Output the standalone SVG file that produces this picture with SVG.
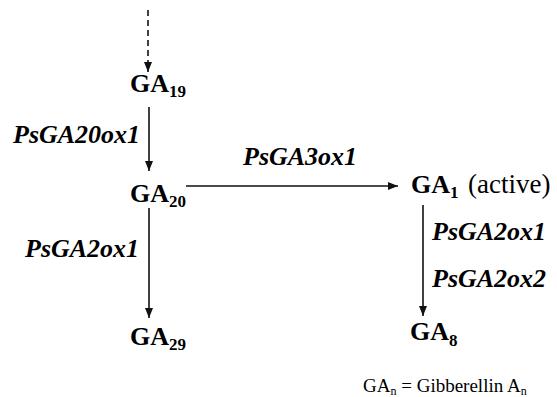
<svg xmlns="http://www.w3.org/2000/svg" width="557" height="397" viewBox="0 0 557 397">
<style>
.ln{stroke:#111;stroke-width:1.6;fill:none}
</style>
<defs>
<marker id="ah" viewBox="0 0 10 10" refX="10" refY="5" markerWidth="10" markerHeight="10" markerUnits="userSpaceOnUse" orient="auto">
<path d="M0,1 L10,5 L0,9 Z" fill="#111"/>
</marker>
</defs>
<rect width="557" height="397" fill="#fff"/>
<g id="connectors">
<line class="ln" x1="148" y1="10" x2="148" y2="72" stroke-dasharray="6,4" marker-end="url(#ah)"/>
<line class="ln" x1="149" y1="107" x2="149" y2="171" marker-end="url(#ah)"/>
<line class="ln" x1="149" y1="208" x2="149" y2="318" marker-end="url(#ah)"/>
<line class="ln" x1="186" y1="186" x2="398" y2="186" marker-end="url(#ah)"/>
<line class="ln" x1="423" y1="205" x2="423" y2="316" marker-end="url(#ah)"/>
</g>
<g id="label-PsGA20ox1"><text x="13" y="143" font-family="Liberation Serif" font-weight="bold" font-style="italic" font-size="26">PsGA20ox1</text></g>
<g id="label-PsGA3ox1"><text x="243" y="165" font-family="Liberation Serif" font-weight="bold" font-style="italic" font-size="26">PsGA3ox1</text></g>
<g id="label-PsGA2ox1-left"><text x="25" y="257" font-family="Liberation Serif" font-weight="bold" font-style="italic" font-size="26">PsGA2ox1</text></g>
<g id="label-PsGA2ox1-right"><text x="432" y="240" font-family="Liberation Serif" font-weight="bold" font-style="italic" font-size="26">PsGA2ox1</text></g>
<g id="label-PsGA2ox2"><text x="432" y="287" font-family="Liberation Serif" font-weight="bold" font-style="italic" font-size="26">PsGA2ox2</text></g>
<g id="GA19"><text x="130" y="92" font-family="Liberation Serif" font-weight="bold" font-size="26">GA<tspan font-size="17" dy="5">19</tspan></text></g>
<g id="GA20"><text x="130" y="202" font-family="Liberation Serif" font-weight="bold" font-size="26">GA<tspan font-size="17" dy="5">20</tspan></text></g>
<g id="GA29"><text x="130" y="345" font-family="Liberation Serif" font-weight="bold" font-size="26">GA<tspan font-size="17" dy="5">29</tspan></text></g>
<g id="GA1"><text x="411" y="193" font-family="Liberation Serif" font-weight="bold" font-size="26">GA<tspan font-size="17" dy="5">1</tspan></text><text x="468" y="193" font-family="Liberation Serif" font-size="27">(active)</text></g>
<g id="GA8"><text x="410" y="340" font-family="Liberation Serif" font-weight="bold" font-size="26">GA<tspan font-size="17" dy="6">8</tspan></text></g>
<g id="legend"><text x="363" y="392" font-family="Liberation Serif" font-size="19">GA<tspan font-size="12" dy="3">n</tspan><tspan dy="-3"> = Gibberellin A</tspan><tspan font-size="12" dy="3">n</tspan></text></g>
</svg>
